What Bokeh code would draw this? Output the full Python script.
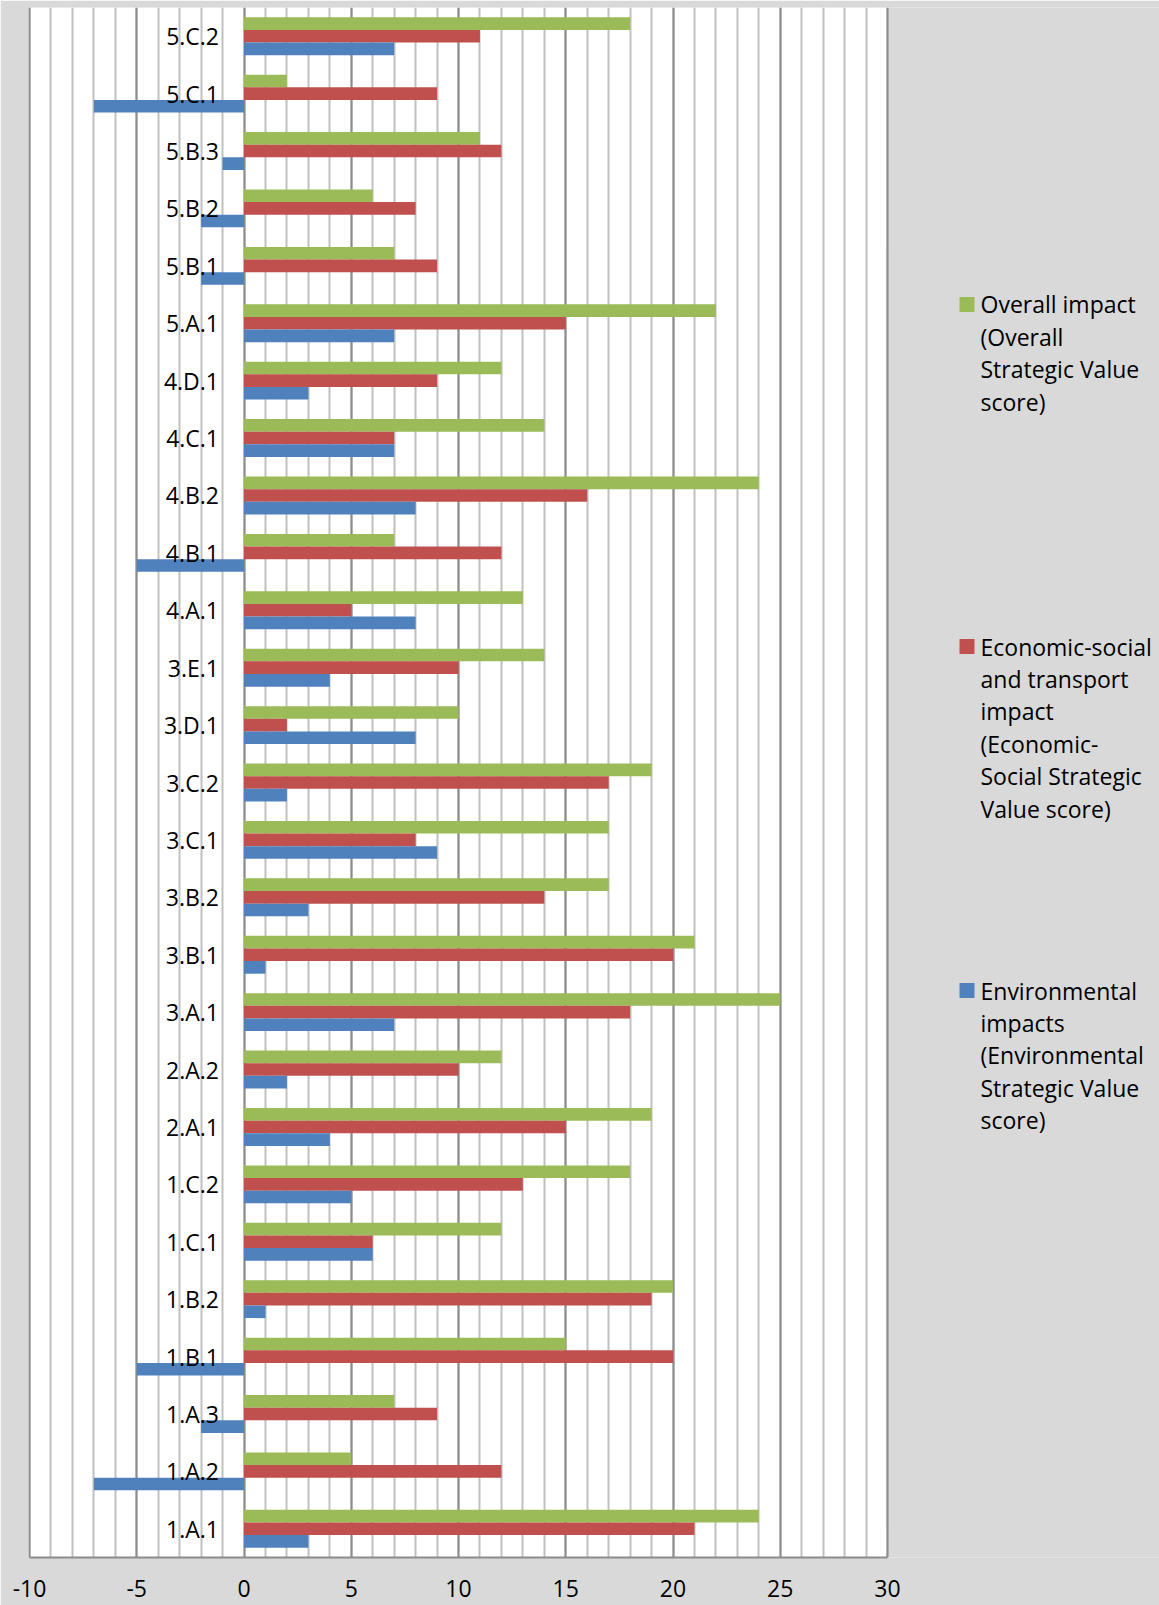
from bokeh.plotting import figure
from bokeh.models import ColumnDataSource, FactorRange, SingleIntervalTicker, Range1d, PrintfTickFormatter
from bokeh.transform import dodge
from bokeh.core.properties import value
from bokeh.embed import file_html
from bokeh.resources import INLINE

categories = ["1.A.1", "1.A.2", "1.A.3", "1.B.1", "1.B.2", "1.C.1", "1.C.2", "2.A.1", "2.A.2",
              "3.A.1", "3.B.1", "3.B.2", "3.C.1", "3.C.2", "3.D.1", "3.E.1", "4.A.1", "4.B.1",
              "4.B.2", "4.C.1", "4.D.1", "5.A.1", "5.B.1", "5.B.2", "5.B.3", "5.C.1", "5.C.2"]
environmental = [3, -7, -2, -5, 1, 6, 5, 4, 2, 7, 1, 3, 9, 2, 8, 4, 8, -5, 8, 7, 3, 7, -2, -2, -1, -7, 7]
economic = [21, 12, 9, 20, 19, 6, 13, 15, 10, 18, 20, 14, 8, 17, 2, 10, 5, 12, 16, 7, 9, 15, 9, 8, 12, 9, 11]
overall = [24, 5, 7, 15, 20, 12, 18, 19, 12, 25, 21, 17, 17, 19, 10, 14, 13, 7, 24, 14, 12, 22, 7, 6, 11, 2, 18]
x_ticks_start, x_ticks_end = -10, 30

legend_labels = [
    ["Overall impact", "(Overall", "Strategic Value", "score)"],
    ["Economic-social", "and transport", "impact", "(Economic-", "Social Strategic", "Value score)"],
    ["Environmental", "impacts", "(Environmental", "Strategic Value", "score)"],
]
colors = ["#9BBB59", "#C0504D", "#4F81BD"]

FONT = "Open Sans"
BG = "#D9D9D9"
W, H = 1159, 1605
FRAME_L, FRAME_T, FRAME_B = 28, 7, 1557      # pixel layout of plot frame
PLOT_L, PLOT_R = 29, 887                     # pixel positions of x = -10 and x = 30

n = len(categories)
px_per_x = (PLOT_R - PLOT_L) / (x_ticks_end - x_ticks_start)
x0 = x_ticks_start - (PLOT_L - FRAME_L) / px_per_x
x1 = x_ticks_start + (W - PLOT_L) / px_per_x
px_per_y = (FRAME_B - FRAME_T) / n

def xd(px):
    return x_ticks_start + (px - PLOT_L) / px_per_x

def yd(py):
    return n - (py - FRAME_T) / px_per_y

src = ColumnDataSource(dict(cat=categories, env=environmental, eco=economic, ovr=overall,
                            zero=[0] * n))

p = figure(width=W, height=H, y_range=FactorRange(*categories, range_padding=0),
           x_range=Range1d(x0, x1),
           output_backend="svg", toolbar_location=None,
           min_border_left=FRAME_L, min_border_right=0, min_border_top=FRAME_T,
           min_border_bottom=H - FRAME_B)
p.background_fill_color = BG
p.border_fill_color = BG
p.outline_line_color = None

# white plotting area (-10 .. 30)
p.quad(left=x_ticks_start, right=x_ticks_end, bottom=0, top=n, color="white",
       line_color=None, level="image")

bh = 0.22
p.hbar(y=dodge("cat", 0.22, range=p.y_range), left=0, right="ovr", height=bh, source=src,
       color=colors[0], line_color=None)
p.hbar(y=dodge("cat", 0.0, range=p.y_range), left=0, right="eco", height=bh, source=src,
       color=colors[1], line_color=None)
p.hbar(y=dodge("cat", -0.22, range=p.y_range), left=0, right="env", height=bh, source=src,
       color=colors[2], line_color=None)

p.text(x="zero", y="cat", text="cat", source=src, x_offset=-25, y_offset=0,
       text_align="right", text_baseline="middle", text_font=value(FONT),
       text_font_size="23px", text_color="#000000")

p.yaxis.visible = False
p.ygrid.visible = False
ticker = SingleIntervalTicker(interval=5, num_minor_ticks=5)
p.xaxis.ticker = ticker
p.xgrid.ticker = ticker
p.xgrid.bounds = (x_ticks_start, x_ticks_end)
p.xaxis.bounds = (x_ticks_start, x_ticks_end)
p.xgrid.grid_line_color = "#8C8C8C"
p.xgrid.grid_line_width = 2
p.xgrid.minor_grid_line_color = "#C0C0C0"
p.xgrid.minor_grid_line_width = 2
p.xaxis.axis_line_color = "#8C8C8C"
p.xaxis.axis_line_width = 2
p.xaxis.major_tick_line_color = None
p.xaxis.minor_tick_line_color = None
p.xaxis.major_tick_out = 0
p.xaxis.minor_tick_out = 0
p.xaxis.major_tick_in = 0
p.xaxis.minor_tick_in = 0
p.xaxis.formatter = PrintfTickFormatter(format="%d")
p.xaxis.major_label_standoff = 22
p.xaxis.major_label_text_font = FONT
p.xaxis.major_label_text_font_size = "23px"
p.xaxis.major_label_text_color = "#000000"

# legend (drawn in the grey area right of the plotting area)
first_line_px = [304, 646, 990]
line_gap_px = 32.4
sq_x, sq_y, sq_c = [], [], []
tx, ty, tt = [], [], []
for labels, y0, c in zip(legend_labels, first_line_px, colors):
    sq_x.append(xd(966.5))
    sq_y.append(yd(y0))
    sq_c.append(c)
    for i, t in enumerate(labels):
        tx.append(xd(980))
        ty.append(yd(y0 + i * line_gap_px))
        tt.append(t)
p.rect(x=sq_x, y=sq_y, width=15, height=15, width_units="screen", height_units="screen",
       color=sq_c, line_color=None)
p.text(x=tx, y=ty, text=tt, text_align="left", text_baseline="middle",
       text_font=value(FONT), text_font_size="23px", text_color="#000000")

open("out.html", "w").write(file_html(p, INLINE))
